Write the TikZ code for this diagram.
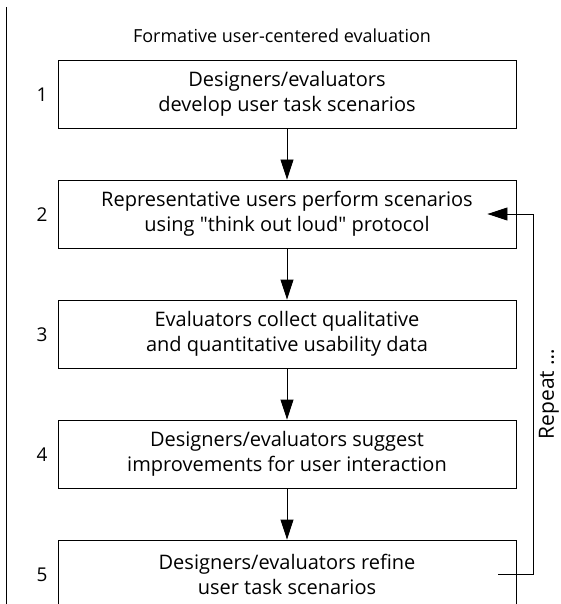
\documentclass[tikz,border=0pt]{standalone}
\usepackage{fontspec}
\setmainfont{Open Sans}
\usetikzlibrary{arrows.meta}
\tikzset{
  stepbox/.style={draw, line width=0.9pt, minimum width=458pt, minimum height=68pt,
    inner sep=0pt, align=center, font=\fontsize{20}{25}\selectfont},
  numlabel/.style={font=\fontsize{19}{22}\selectfont, inner sep=0pt},
  flow/.style={line width=0.9pt, -{Triangle[length=20pt,width=13pt]}},
}
\begin{document}
\begin{tikzpicture}[x=1pt,y=-1pt]
\useasboundingbox (0,0) rectangle (561,604);
\clip (0,0) rectangle (561,604);
\coordinate (lt) at (6.5,7);
\coordinate (lb) at (6.5,610);
\draw[line width=0.9pt] (lt) -- (lb);
\node[font=\fontsize{18}{21}\selectfont] (title) at (282,36) {Formative user-centered evaluation};
\node[stepbox] (b1) at (287,94) {Designers/evaluators\\develop user task scenarios};
\node[stepbox] (b2) at (287,214) {Representative users perform scenarios\\using \textquotedbl think out loud\textquotedbl\ protocol};
\node[stepbox] (b3) at (287,334) {Evaluators collect qualitative\\and quantitative usability data};
\node[stepbox] (b4) at (287,454) {Designers/evaluators suggest\\improvements for user interaction};
\node[stepbox] (b5) at (287,574) {Designers/evaluators refine\\user task scenarios};
\node[numlabel] (n1) at (42,95) {1};
\node[numlabel] (n2) at (42,215) {2};
\node[numlabel] (n3) at (42,335) {3};
\node[numlabel] (n4) at (42,455) {4};
\node[numlabel] (n5) at (42,575) {5};
\draw[flow] (b1) -- (b2);
\draw[flow] (b2) -- (b3);
\draw[flow] (b3) -- (b4);
\draw[flow] (b4) -- (b5);
\coordinate (rs) at ([xshift=-18pt]b5.east);
\coordinate (re) at ([xshift=-29pt]b2.east);
\coordinate (rc) at ([xshift=17pt]b5.east);
\draw[flow] (rs) -- (rc) |- (re);
\node[rotate=90, font=\fontsize{21}{24}\selectfont] (rep) at (549,394) {Repeat \ldots};
\end{tikzpicture}
\end{document}
